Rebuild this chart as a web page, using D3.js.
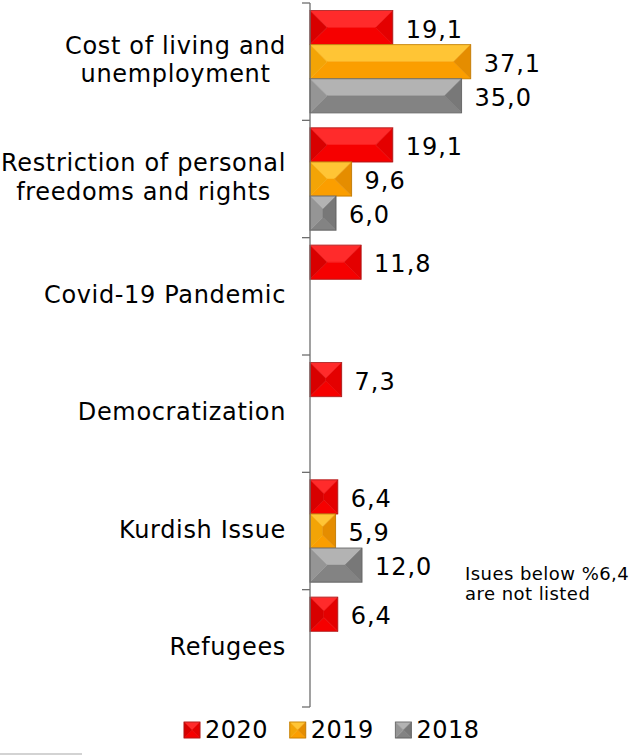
<!DOCTYPE html>
<html>
<head>
<meta charset="utf-8">
<script src="https://cdn.jsdelivr.net/npm/d3@7"></script>
<style>
  html, body { margin: 0; padding: 0; background: #fff; }
  svg { display: block; font-family: "DejaVu Sans", Verdana, sans-serif; }
</style>
</head>
<body>
<svg id="chart" width="630" height="755"></svg>
<script>
// ---- data ----
const categories = [
  "Cost of living and\nunemployment",
  "Restriction of personal\nfreedoms and rights",
  "Covid-19 Pandemic",
  "Democratization",
  "Kurdish Issue",
  "Refugees"
];
const seriesNames = ["2020", "2019", "2018"];
const values2020 = [19.1, 19.1, 11.8, 7.3, 6.4, 6.4];
const values2019 = [37.1, 9.6, null, null, 5.9, null];
const values2018 = [35.0, 6.0, null, null, 12.0, null];
const noteLines = ["Isues below %6,4", "are not listed"];

// ---- styles ----
const palettes = {
  "2020": { top: "#ff2b2b", bottom: "#f60000", left: "#d80000", right: "#e40000", stroke: "#9a2020" },
  "2019": { top: "#ffc535", bottom: "#fb9e00", left: "#f3a406", right: "#e58d00", stroke: "#b77400" },
  "2018": { top: "#b3b3b3", bottom: "#838383", left: "#959595", right: "#787878", stroke: "#5a5a5a" }
};

const svg = d3.select("#chart");
const x0 = 310;
const x = d3.scaleLinear().domain([0, 40]).range([x0, x0 + 173.2]);
const y = d3.scaleBand().domain(categories).range([3, 707]).padding(0);
const ySub = d3.scaleBand().domain(seriesNames).range([0, y.bandwidth()])
  .paddingInner(0).paddingOuter(0.22);

const seriesValues = { "2020": values2020, "2019": values2019, "2018": values2018 };
const fmt = v => d3.format(".1f")(v).replace(".", ",");

function bevel(g, bx, by, w, h, pal) {
  const d = Math.min(w, h) / 2;
  const xa = bx, xb = bx + w, ya = by, yb = by + h;
  const faces = [
    { pts: [[xa, ya], [xb, ya], [xb - d, ya + d], [xa + d, ya + d]], fill: pal.top },
    { pts: [[xa, yb], [xb, yb], [xb - d, yb - d], [xa + d, yb - d]], fill: pal.bottom },
    { pts: [[xa, ya], [xa + d, ya + d], [xa + d, yb - d], [xa, yb]], fill: pal.left },
    { pts: [[xb, ya], [xb - d, ya + d], [xb - d, yb - d], [xb, yb]], fill: pal.right }
  ];
  faces.forEach(f => {
    g.append("polygon").attr("points", f.pts.map(p => p.join(",")).join(" "))
      .attr("fill", f.fill).attr("stroke", f.fill).attr("stroke-width", 0.5);
  });
  g.append("rect").attr("x", xa).attr("y", ya).attr("width", w).attr("height", h)
    .attr("fill", "none").attr("stroke", pal.stroke).attr("stroke-width", 1).attr("stroke-opacity", 0.7);
}

// ---- bars ----
const barsG = svg.append("g");
seriesNames.forEach(s => {
  seriesValues[s].forEach((v, i) => {
    if (v == null) return;
    const cat = categories[i];
    const by = y(cat) + ySub(s);
    const bh = ySub.bandwidth();
    const w = x(v) - x(0);
    bevel(barsG.append("g"), x(0), by, w, bh, palettes[s]);
    barsG.append("text")
      .attr("x", x(v) + 13)
      .attr("y", by + bh / 2 + 10)
      .attr("font-size", 24)
      .attr("letter-spacing", 1)
      .attr("fill", "#000")
      .text(fmt(v));
  });
});

// ---- axis ----
const axisG = svg.append("g").attr("stroke", "#6e6e6e").attr("stroke-width", 1.3);
axisG.append("line").attr("x1", x0).attr("x2", x0).attr("y1", y.range()[0]).attr("y2", y.range()[1]);
const bounds = categories.map(c => y(c)).concat([y.range()[1]]);
bounds.forEach(b => {
  axisG.append("line").attr("x1", x0 - 8).attr("x2", x0).attr("y1", b).attr("y2", b);
});

// ---- category labels ----
categories.forEach(cat => {
  const lines = cat.split("\n");
  const c = y(cat) + y.bandwidth() / 2;
  const t = svg.append("text").attr("font-size", 24).attr("fill", "#000")
    .attr("letter-spacing", 0.65).attr("text-anchor", "middle");
  const spans = lines.map((ln, i) => t.append("tspan")
    .attr("x", 0)
    .attr("y", c + 6.5 + (i - (lines.length - 1) / 2) * 28.5)
    .text(ln));
  const maxW = d3.max(spans, s => s.node().getComputedTextLength());
  const cx = 286 - maxW / 2;
  spans.forEach(s => s.attr("x", cx));
});

// ---- note ----
const note = svg.append("text").attr("font-size", 18).attr("letter-spacing", 0.45).attr("fill", "#000");
noteLines.forEach((ln, i) => note.append("tspan").attr("x", 465).attr("y", 580 + i * 20).text(ln));

// ---- legend ----
const legend = svg.append("g");
seriesNames.forEach((s, i) => {
  const lx = 184 + i * 105.7;
  bevel(legend.append("g"), lx, 722, 16, 16, palettes[s]);
  legend.append("text").attr("x", lx + 21).attr("y", 737.5).attr("font-size", 24)
    .attr("letter-spacing", 0.5).attr("fill", "#000").text(s);
});

// bottom-left rule
svg.append("line").attr("x1", 0).attr("x2", 82).attr("y1", 754).attr("y2", 754)
  .attr("stroke", "#c4c4c4").attr("stroke-width", 1.5);
</script>
</body>
</html>
